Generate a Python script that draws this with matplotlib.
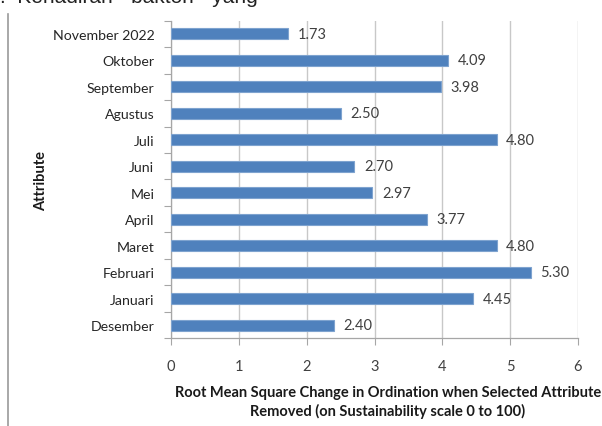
import matplotlib.pyplot as plt
from matplotlib.lines import Line2D

# data (top to bottom as shown in the chart)
bulan = ['November 2022', 'Oktober', 'September', 'Agustus', 'Juli', 'Juni',
         'Mei', 'April', 'Maret', 'Februari', 'Januari', 'Desember']
nilai = [1.73, 4.09, 3.98, 2.50, 4.80, 2.70, 2.97, 3.77, 4.80, 5.30, 4.45, 2.40]
x_ticks = [0, 1, 2, 3, 4, 5, 6]

plt.rcParams['font.family'] = ['Lato', 'DejaVu Sans']

fig = plt.figure(figsize=(6.02, 4.27), dpi=100)
ax = fig.add_axes([0.2841, 0.2054, 0.6760, 0.7438])

pos = list(range(len(bulan)))[::-1]
ax.barh(pos, nilai, height=0.42, color='#4F81BD', edgecolor='#7EA3CF',
        linewidth=0.8, zorder=3)

# label nilai di ujung batang
for p, v in zip(pos, nilai):
    ax.annotate('%.2f' % v, (v, p), xytext=(7, 0), textcoords='offset points',
                va='center', ha='left', fontsize=10.5, color='#404040', zorder=4)

ax.set_xlim(0, 6)
ax.set_ylim(-0.5, len(bulan) - 0.5)
ax.set_xticks(x_ticks)
ax.set_xticklabels([str(t) for t in x_ticks])
ax.set_yticks(pos)
ax.set_yticklabels(bulan)

# tick y di batas kategori, label di tengah
ax.set_yticks([i + 0.5 for i in range(-1, len(bulan))], minor=True)
ax.tick_params(axis='y', which='major', length=0, pad=12, labelsize=10.2,
               labelcolor='#262626')
ax.tick_params(axis='y', which='minor', length=5, color='#A6A6A6', width=0.8)
ax.tick_params(axis='x', length=5, color='#A6A6A6', width=0.8, pad=10,
               labelsize=10.5, labelcolor='#404040')

ax.grid(axis='x', color='#C8C8C8', linewidth=1, zorder=0)
for s in ['top', 'right']:
    ax.spines[s].set_visible(False)
for s in ['left', 'bottom']:
    ax.spines[s].set_color('#A6A6A6')
    ax.spines[s].set_linewidth(0.9)

fig.text(0.068, 0.575, 'Attribute', rotation=90, fontsize=10.5, fontweight='bold',
         ha='center', va='center', color='#1a1a1a')
fig.text(0.6445, 0.058,
         'Root Mean Square Change in Ordination when Selected Attribute\n'
         'Removed (on Sustainability scale 0 to 100)',
         ha='center', va='center', fontsize=10.5, fontweight='bold',
         color='#1a1a1a', linespacing=1.3)

# bingkai kiri dan teks yang terpotong di atas
fig.add_artist(Line2D([0.0141, 0.0141], [0.0, 0.965], color='#9A9A9A',
                      linewidth=1.2, transform=fig.transFigure))
fig.text(0.0, 0.992, '.  Kehadiran  \u201cbaktori\u201d  yang', fontsize=15,
         ha='left', va='baseline', color='#222222',
         family=['Liberation Sans', 'DejaVu Sans'])

fig.savefig('out.png', dpi=100)
